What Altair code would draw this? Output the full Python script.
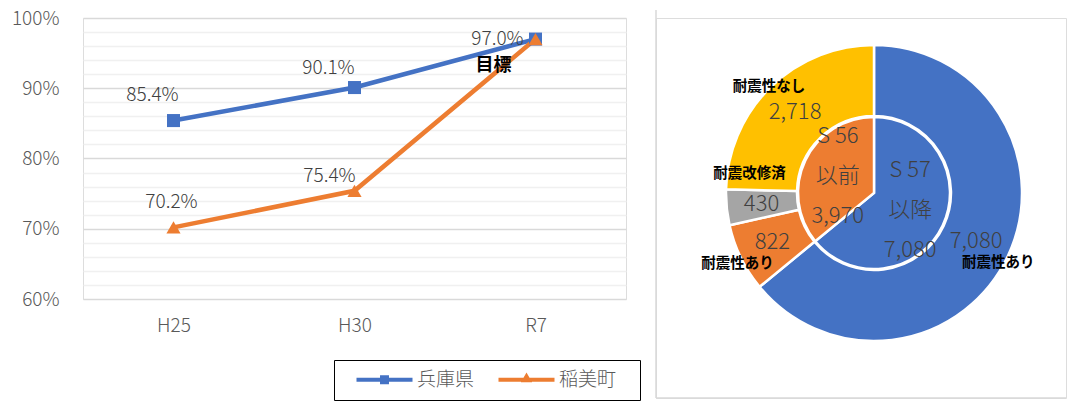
import altair as alt
import pandas as pd

FONT = "Noto Sans CJK JP"

# ---- line chart data ----
categories = ["H25", "H30", "R7"]
series_names = ["兵庫県", "稲美町"]
hyogo_values = [0.854, 0.901, 0.970]
inami_values = [0.702, 0.754, 0.970]
series_colors = ["#4472C4", "#ED7D31"]
y_tick_values = [0.60, 0.62, 0.64, 0.66, 0.68, 0.70, 0.72, 0.74, 0.76, 0.78,
                 0.80, 0.82, 0.84, 0.86, 0.88, 0.90, 0.92, 0.94, 0.96, 0.98, 1.00]
target_text = "目標"

# ---- donut data ----
outer_cats = ["耐震性あり", "耐震性あり", "耐震改修済", "耐震性なし"]
outer_values = [7080, 822, 430, 2718]
outer_colors = ["#4472C4", "#ED7D31", "#A5A5A5", "#FFC000"]
inner_cats = ["S 57\n以降", "S 56\n以前"]
inner_values = [7080, 3970]
inner_colors = ["#4472C4", "#ED7D31"]

rows = []
for name, vals in zip(series_names, [hyogo_values, inami_values]):
    for c, v in zip(categories, vals):
        rows.append({"cat": c, "val": v, "series": name})
line_df = pd.DataFrame(rows)

PW, PH = 543, 281
LIGHT = 300

x_enc = alt.X("cat:N", sort=categories,
              scale=alt.Scale(type="point", padding=0.5, domain=categories),
              axis=alt.Axis(title=None, labelAngle=0, ticks=False, domain=False, grid=False,
                            labelFontSize=19, labelColor="#595959", labelPadding=17,
                            labelFont=FONT, labelFontWeight=LIGHT))
y_enc = alt.Y("val:Q",
              scale=alt.Scale(domain=[0.6, 1.0], nice=False, zero=False),
              axis=alt.Axis(title=None, values=y_tick_values, format=".0%",
                            labelExpr="abs(datum.value*10 - round(datum.value*10)) < 0.001 ? datum.label : ''",
                            ticks=False, domain=False,
                            gridColor={"condition": {"test": "abs(datum.value*10 - round(datum.value*10)) < 0.001",
                                                     "value": "#d9d9d9"},
                                       "value": "#f0f0f0"},
                            gridWidth=1.3,
                            labelFontSize=19, labelColor="#595959", labelPadding=24,
                            minExtent=74, maxExtent=74, labelFont=FONT, labelFontWeight=LIGHT))
color_enc = alt.Color("series:N", scale=alt.Scale(domain=series_names, range=series_colors), legend=None)

base = alt.Chart(line_df)

# legend symbols: a line with the marker in its middle (units scaled by sqrt(size)/2 = 8px)
sym_blue = "M-3.5,-0.25L3.5,-0.25L3.5,0.25L-3.5,0.25Z M-0.56,-0.56L0.56,-0.56L0.56,0.56L-0.56,0.56Z"
sym_orange = "M-3.5,-0.25L3.5,-0.25L3.5,0.25L-3.5,0.25Z M-0.7,0.3L0,-0.9L0.7,0.3Z"
legend_label_expr = f"datum.label == '{series_names[1]}' ? datum.label + '\u2002\u2009\u200b' : datum.label"
legend_layer = base.transform_filter("false").mark_point(filled=True, opacity=1).encode(
    x=x_enc, y=y_enc,
    color=alt.Color("series:N", scale=alt.Scale(domain=series_names, range=series_colors),
                    legend=alt.Legend(orient="none", legendX=251, legendY=342, direction="horizontal",
                                      title=None, strokeColor="black", padding=10,
                                      fillColor="white",
                                      symbolSize=256, symbolOffset=31, labelOffset=23,
                                      symbolStrokeWidth=0, columnPadding=11,
                                      labelExpr=legend_label_expr,
                                      labelFontSize=19, labelColor="#595959", labelFont=FONT,
                                      labelFontWeight=LIGHT)),
    shape=alt.Shape("series:N", scale=alt.Scale(domain=series_names, range=[sym_blue, sym_orange])),
)

lines = base.mark_line(strokeWidth=4.5).encode(x=x_enc, y=y_enc, color=color_enc)
pts_sq = base.transform_filter(alt.datum.series == series_names[0]).mark_point(
    shape="square", filled=True, size=170, opacity=1).encode(x=x_enc, y=y_enc, color=color_enc)
pts_tr = base.transform_filter(alt.datum.series == series_names[1]).mark_point(
    shape="triangle-up", filled=True, size=200, opacity=1).encode(x=x_enc, y=y_enc, color=color_enc)


def label(series, cat, dx, dy):
    return base.transform_filter((alt.datum.series == series) & (alt.datum.cat == cat)).mark_text(
        dx=dx, dy=dy, fontSize=19, color="#404040", font=FONT, baseline="middle", fontWeight=LIGHT
    ).encode(x=x_enc, y=y_enc, text=alt.Text("val:Q", format=".1%"))

labels = [
    label(series_names[0], "H25", -21, -26),
    label(series_names[0], "H30", -26, -20),
    label(series_names[1], "H25", -2, -25),
    label(series_names[1], "H30", -25, -15),
    label(series_names[0], "R7", -38, 0),
]
target = base.transform_filter((alt.datum.series == series_names[0]) & (alt.datum.cat == "R7")).mark_text(
    dx=-42, dy=27, fontSize=18, fontWeight="bold", color="black", font=FONT, baseline="middle"
).encode(x=x_enc, y=y_enc, text=alt.value(target_text))

left = alt.layer(legend_layer, lines, pts_sq, pts_tr, *labels, target).properties(width=PW, height=PH)

# ---- donut ----
W, H = 410, 380
CX, CY = 218, 175
outer_df = pd.DataFrame({"idx": list(range(len(outer_values))), "cat": outer_cats, "value": outer_values})
inner_df = pd.DataFrame({"idx": list(range(len(inner_values))), "cat": inner_cats, "value": inner_values})

theta = alt.Theta("value:Q", stack=True)
order = alt.Order("idx:Q")
cx = alt.value(CX)
cy = alt.value(CY)

outer_arc = alt.Chart(outer_df).mark_arc(radius=148, radius2=77, stroke="white", strokeWidth=2.5).encode(
    theta=theta, order=order, x=cx, y=cy,
    color=alt.Color("idx:N", scale=alt.Scale(domain=list(range(4)), range=outer_colors), legend=None))
inner_arc = alt.Chart(inner_df).mark_arc(radius=76, stroke="white", strokeWidth=2.5).encode(
    theta=theta, order=order, x=cx, y=cy,
    color=alt.Color("idx:N", scale=alt.Scale(domain=list(range(2)), range=inner_colors), legend=None))

outer_nums = alt.Chart(outer_df).mark_text(radius=113, fontSize=22, color="#404040", font=FONT,
                                           fontWeight=LIGHT).encode(
    theta=theta, order=order, x=cx, y=cy, text=alt.Text("value:Q", format=","))
inner_txt = alt.Chart(inner_df).transform_calculate(
    t="datum.cat + '\\n' + format(datum.value, ',')"
).mark_text(radius=40, dy=-40, fontSize=22, color="#404040", font=FONT, lineBreak="\n", lineHeight=40,
            fontWeight=LIGHT).encode(
    theta=theta, order=order, x=cx, y=cy, text="t:N")

def cat_label(i, dx, dy):
    return alt.Chart(outer_df).transform_calculate(
        t=f"datum.idx == {i} ? datum.cat : ''"
    ).mark_text(radius=113, dx=dx, dy=dy, fontSize=14.5, fontWeight="bold", color="black", font=FONT).encode(
        theta=theta, order=order, x=cx, y=cy, text="t:N")

cat_labels = [cat_label(0, 22, 22), cat_label(1, -35, 22), cat_label(2, -12, -30), cat_label(3, -26, -25)]

frame_df = pd.DataFrame({"a": [0]})
frame_v = alt.Chart(frame_df).mark_rule(color="#d9d9d9", strokeWidth=1.5).encode(
    x=alt.value(0), y=alt.value(-8), y2=alt.value(H))
frame_h = alt.Chart(frame_df).mark_rule(color="#d9d9d9", strokeWidth=1.5).encode(
    x=alt.value(0), x2=alt.value(W), y=alt.value(H))

right = alt.layer(outer_arc, inner_arc, outer_nums, inner_txt, *cat_labels, frame_v, frame_h).resolve_scale(
    color="independent").properties(width=W, height=H)

chart = alt.hconcat(left, right, spacing=27).properties(
    padding={"left": 0, "top": 0, "right": 0, "bottom": 0}
).configure_view(stroke="transparent").configure_legend(strokeWidth=1.5).configure(font=FONT)

chart.save("out.html", embed_options={"renderer": "svg", "actions": False})
